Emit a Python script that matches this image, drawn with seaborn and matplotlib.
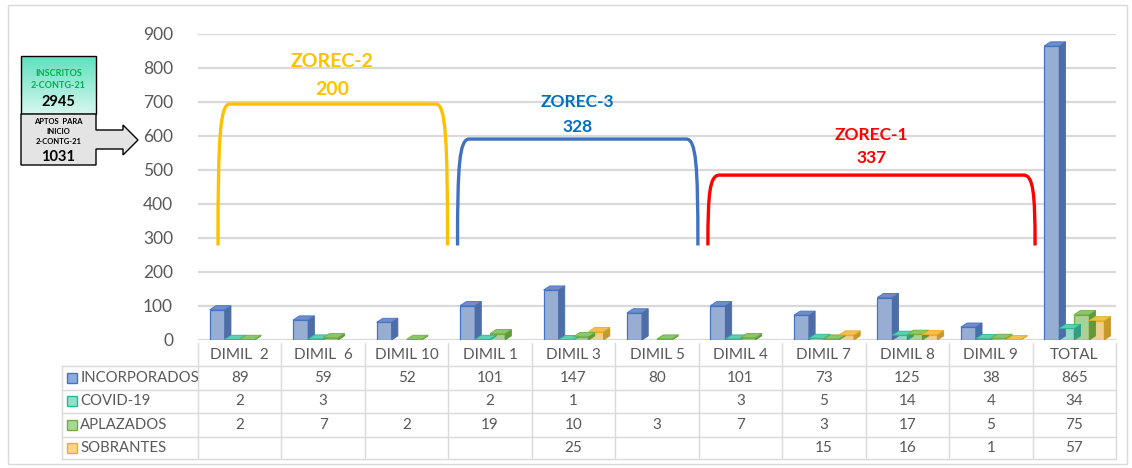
import numpy as np
import pandas as pd
import matplotlib
matplotlib.use("Agg")
import matplotlib.pyplot as plt
import seaborn as sns
from matplotlib.path import Path
from matplotlib.patches import PathPatch, Polygon, Rectangle
from matplotlib.colors import LinearSegmentedColormap
import matplotlib.transforms as mtransforms

# data
categorias = ["DIMIL  2", "DIMIL  6", "DIMIL 10", "DIMIL 1", "DIMIL 3", "DIMIL 5",
              "DIMIL 4", "DIMIL 7", "DIMIL 8", "DIMIL 9", "TOTAL"]
series = ["INCORPORADOS", "COVID-19", "APLAZADOS", "SOBRANTES"]
incorporados = [89, 59, 52, 101, 147, 80, 101, 73, 125, 38, 865]
covid = [2, 3, None, 2, 1, None, 3, 5, 14, 4, 34]
aplazados = [2, 7, 2, 19, 10, 3, 7, 3, 17, 5, 75]
sobrantes = [None, None, None, None, 25, None, None, 15, 16, 1, 57]

zonas = ["ZOREC-2", "ZOREC-3", "ZOREC-1"]
zonas_total = [200, 328, 337]
inscritos = 2945
aptos = 1031

valores = [incorporados, covid, aplazados, sobrantes]

# colors
relleno = ["#8EAADC", "#8AE3CC", "#A9D98E", "#FFD580"]
borde = ["#4472C4", "#2FB592", "#70AD47", "#E8B020"]
lado = ["#4D6DA8", "#2E9F80", "#5E9A3A", "#C8982A"]
tapa = ["#6F8DC9", "#5ECFB1", "#8CC66A", "#F2C050"]

rows = []
for s, vals in zip(series, valores):
    for c, v in zip(categorias, vals):
        rows.append((c, s, v))
df = pd.DataFrame(rows, columns=["dimil", "serie", "valor"]).dropna()

sns.set_theme(style="white")
plt.rcParams["font.family"] = ["Lato", "DejaVu Sans"]

W, H = 1132, 468
fig = plt.figure(figsize=(W / 100, H / 100), dpi=100)

# overlay in pixel coords
over = fig.add_axes([0, 0, 1, 1], zorder=-1)
over.set_xlim(0, W)
over.set_ylim(H, 0)
over.axis("off")

ax = fig.add_axes([198 / W, 1 - 340 / H, 918 / W, 306 / H])
ax.patch.set_alpha(0)

sns.barplot(data=df, x="dimil", y="valor", hue="serie", order=categorias,
            hue_order=series, palette=dict(zip(series, relleno)), width=0.72,
            errorbar=None, legend=False, ax=ax, zorder=3)

dx, dy = 0.075, 12
for i, cont in enumerate(ax.containers):
    for bar in cont:
        h = bar.get_height()
        if np.isnan(h):
            continue
        x0 = bar.get_x()
        w = bar.get_width()
        bar.set_edgecolor(borde[i])
        bar.set_linewidth(0.9)
        ax.add_patch(Polygon([(x0 + w, 0), (x0 + w + dx, dy), (x0 + w + dx, h + dy), (x0 + w, h)],
                             closed=True, fc=lado[i], ec=lado[i], lw=0.6, zorder=3))
        ax.add_patch(Polygon([(x0, h), (x0 + dx, h + dy), (x0 + w + dx, h + dy), (x0 + w, h)],
                             closed=True, fc=tapa[i], ec=borde[i], lw=0.6, zorder=3))

ax.set_xlim(-0.5, 10.5)
ax.set_ylim(0, 900)
ax.set_yticks(range(0, 1000, 100))
ax.set_xticks([])
ax.set_xlabel("")
ax.set_ylabel("")
ax.yaxis.grid(True, color="#D9D9D9", lw=1.6)
ax.set_axisbelow(True)
for sp in ax.spines.values():
    sp.set_visible(False)
ax.tick_params(axis="y", length=0, pad=18, labelsize=12.5, labelcolor="#595959")


# brackets for zones
def llave(x0, x1, ytop, color, ybot=278, rx=0.14):
    alto = ytop - ybot
    verts = [(x0, ybot),
             (x0, ybot + 0.75 * alto), (x0 + rx * 0.15, ytop), (x0 + rx, ytop),
             (x1 - rx, ytop),
             (x1 - rx * 0.15, ytop), (x1, ybot + 0.75 * alto), (x1, ybot)]
    codes = [Path.MOVETO, Path.CURVE4, Path.CURVE4, Path.CURVE4,
             Path.LINETO, Path.CURVE4, Path.CURVE4, Path.CURVE4]
    ax.add_patch(PathPatch(Path(verts, codes), fill=False, ec=color, lw=2.4,
                           zorder=4, clip_on=False, capstyle="butt"))


llave(-0.26, 2.49, 694, "#FFC000")
llave(2.61, 5.49, 591, "#3F72C0")
llave(5.61, 9.53, 485, "#FF0000")

ax.text(1.11, 818, zonas[0], color="#FFC000", fontsize=14, weight="bold", ha="center", va="center")
ax.text(1.11, 737, str(zonas_total[0]), color="#FFC000", fontsize=14, weight="bold", ha="center", va="center")
ax.text(4.05, 700, zonas[1], color="#0070C0", fontsize=12.5, weight="bold", ha="center", va="center")
ax.text(4.05, 625, str(zonas_total[1]), color="#0070C0", fontsize=12.5, weight="bold", ha="center", va="center")
ax.text(7.57, 603, zonas[2], color="#FF0000", fontsize=12.5, weight="bold", ha="center", va="center")
ax.text(7.57, 535, str(zonas_total[2]), color="#FF0000", fontsize=12.5, weight="bold", ha="center", va="center")

# data table under the chart
tr = mtransforms.blended_transform_factory(ax.transData, over.transData)
gris = "#D9D9D9"
x_lbl = -2.13
for k in range(12):
    over.plot([k - 0.5, k - 0.5], [343, 459], color=gris, lw=1, transform=tr)
over.plot([x_lbl, x_lbl], [366, 459], color=gris, lw=1, transform=tr)
for py in [366, 390, 413, 437, 459]:
    over.plot([x_lbl, 10.5], [py, py], color=gris, lw=1, transform=tr)

for k, c in enumerate(categorias):
    over.text(k, 355, c, ha="center", va="center", fontsize=11, color="#595959", transform=tr)

filas_y = [378, 401, 425, 448]
for i, (s, vals) in enumerate(zip(series, valores)):
    py = filas_y[i]
    over.add_patch(Rectangle((-2.07, py - 5), 0.12, 10, fc=relleno[i], ec=borde[i], lw=1, transform=tr))
    over.text(-1.91, py, s, ha="left", va="center", fontsize=10.7, color="#595959", transform=tr)
    for k, v in enumerate(vals):
        if v is not None:
            over.text(k, py, str(v), ha="center", va="center", fontsize=11, color="#595959", transform=tr)

# side boxes
grad = np.linspace(0, 1, 100).reshape(-1, 1)
over.imshow(grad, extent=(21, 96, 114, 56), cmap=LinearSegmentedColormap.from_list("t", ["#5FE0BE", "#D6F7EE"]),
            aspect="auto", zorder=1)
over.add_patch(Rectangle((21, 56), 75, 58, fill=False, ec="black", lw=1, zorder=2))
over.add_patch(Polygon([(21, 114), (96, 114), (96, 130), (123, 130), (123, 125), (138, 140),
                        (123, 155), (123, 149), (96, 149), (96, 165), (21, 165)],
                       closed=True, fc="#E4E4E4", ec="black", lw=1, zorder=2))
over.set_xlim(0, W)
over.set_ylim(H, 0)

over.text(58.5, 73, "INSCRITOS", ha="center", va="center", fontsize=6.5, weight="bold", color="#00B050", zorder=3)
over.text(58.5, 85, "2-CONTG-21", ha="center", va="center", fontsize=6.5, weight="bold", color="#00B050", zorder=3)
over.text(58.5, 102, str(inscritos), ha="center", va="center", fontsize=10.5, weight="bold", color="black", zorder=3)
over.text(58.5, 121, "APTOS  PARA", ha="center", va="center", fontsize=5.5, weight="bold", color="black", zorder=3)
over.text(58.5, 131, "INICIO", ha="center", va="center", fontsize=5.5, weight="bold", color="black", zorder=3)
over.text(58.5, 142, "2-CONTG-21", ha="center", va="center", fontsize=5.5, weight="bold", color="black", zorder=3)
over.text(58.5, 157, str(aptos), ha="center", va="center", fontsize=10.5, weight="bold", color="black", zorder=3)

# chart border
over.add_patch(Rectangle((8, 5), 1119, 459, fill=False, ec=gris, lw=1))

fig.savefig("out.png", dpi=100)
